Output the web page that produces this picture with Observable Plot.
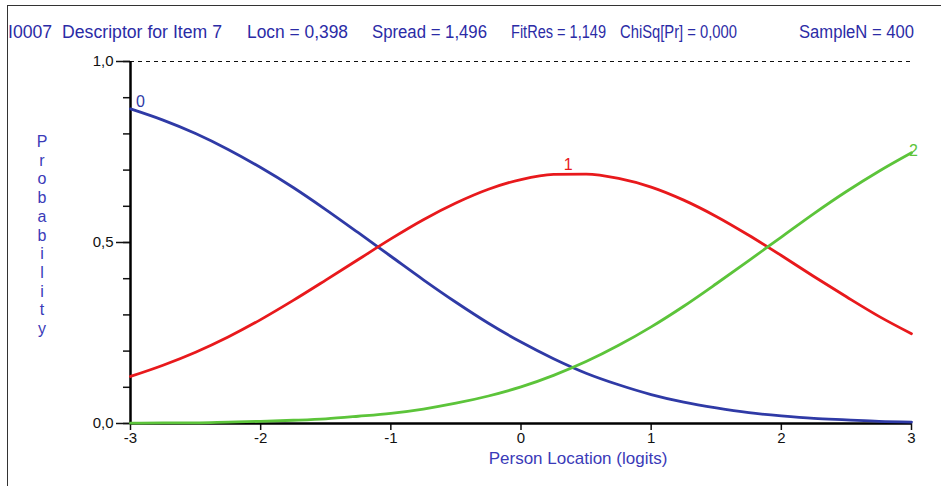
<!DOCTYPE html>
<html>
<head>
<meta charset="utf-8">
<script src="https://cdn.jsdelivr.net/npm/d3@7"></script>
<script src="https://cdn.jsdelivr.net/npm/@observablehq/plot@0.6"></script>
<style>
  html, body { margin: 0; padding: 0; background: #fff; }
  #wrap { position: relative; width: 941px; height: 486px; overflow: hidden; font-family: "Liberation Sans", Arial, sans-serif; }
  #frame { position: absolute; left: 7px; top: 5px; right: -5px; bottom: -5px; border-top: 1.5px solid #333; border-left: 1.5px solid #333; }
  .tt { position: absolute; top: 21px; font-size: 17.5px; color: #2b2ba6; white-space: pre; line-height: 22px; transform-origin: 0 50%; }
  #ylab { position: absolute; left: 34px; top: 133px; width: 16px; text-align: center; font-size: 16px; line-height: 18.7px; color: #3a3ab8; }
  #chart { position: absolute; left: 0; top: 0; }
</style>
</head>
<body>
<div id="wrap">
  <div id="frame"></div>
  <div id="chart"></div>
  <div id="ylab"></div>
</div>
<script>
// ---- data ----
const titleParts = ["I0007  Descriptor for Item 7", "Locn = 0,398", "Spread = 1,496", "FitRes = 1,149", "ChiSq[Pr] = 0,000", "SampleN = 400"];
const xLabel = "Person Location (logits)";
const yLabel = "Probability";
const categories = ["0", "1", "2"];
const logits = [-3, -2.75, -2.5, -2.25, -2, -1.75, -1.5, -1.25, -1, -0.75, -0.5, -0.25, 0, 0.25, 0.5, 0.75, 1, 1.25, 1.5, 1.75, 2, 2.25, 2.5, 2.75, 3];
const prob0 = [0.869, 0.838, 0.801, 0.757, 0.707, 0.652, 0.591, 0.527, 0.462, 0.397, 0.335, 0.277, 0.225, 0.179, 0.139, 0.107, 0.080, 0.059, 0.043, 0.030, 0.021, 0.014, 0.010, 0.006, 0.004];
const prob1 = [0.130, 0.161, 0.197, 0.239, 0.287, 0.340, 0.396, 0.453, 0.510, 0.563, 0.609, 0.647, 0.674, 0.688, 0.689, 0.677, 0.653, 0.617, 0.572, 0.520, 0.464, 0.406, 0.350, 0.296, 0.248];
const prob2 = [0.001, 0.002, 0.002, 0.004, 0.006, 0.009, 0.013, 0.020, 0.028, 0.040, 0.056, 0.076, 0.101, 0.133, 0.171, 0.216, 0.267, 0.324, 0.386, 0.450, 0.515, 0.580, 0.641, 0.697, 0.748];
const xTickValues = [-3, -2, -1, 0, 1, 2, 3];
const xTickLabels = ["-3", "-2", "-1", "0", "1", "2", "3"];
const yTickValues = [0, 0.5, 1];
const yTickLabels = ["0,0", "0,5", "1,0"];
const yMinorTicks = [0, 0.1, 0.2, 0.3, 0.4, 0.5, 0.6, 0.7, 0.8, 0.9, 1];

// ---- layout / style ----
const titleLeft = [8, 247, 372, 511, 620, 799];
const titleWidth = [214, 101, 115, 95, 117, 115];
const colors = ["#2f3aa6", "#e8191c", "#5cc43a"];
const labelIndex = [0, 14, 24];
const labelDx = [10, -18, 2];
const labelDy = [-7, -9, -2];

// titles
const wrap = document.getElementById("wrap");
titleParts.forEach((t, i) => {
  const s = document.createElement("div");
  s.className = "tt";
  s.style.left = titleLeft[i] + "px";
  s.textContent = t;
  wrap.appendChild(s);
  const w = s.getBoundingClientRect().width;
  if (w > 0) s.style.transform = `scaleX(${titleWidth[i] / w})`;
});
document.getElementById("ylab").innerHTML = yLabel.split("").map(c => `<div>${c}</div>`).join("");

const series = [prob0, prob1, prob2];
const rows = [];
series.forEach((ps, k) => ps.forEach((p, i) => rows.push({x: logits[i], p, cat: categories[k]})));
const labelRows = categories.map((c, k) => ({x: logits[labelIndex[k]], p: series[k][labelIndex[k]], cat: c, k}));

const chart = Plot.plot({
  width: 941,
  height: 486,
  marginLeft: 130,
  marginRight: 30,
  marginTop: 61,
  marginBottom: 63,
  style: {fontFamily: "'Liberation Sans', Arial, sans-serif", fontSize: "15px", background: "transparent", color: "#111"},
  x: {domain: [-3, 3]},
  y: {domain: [0, 1]},
  color: {domain: categories, range: colors},
  marks: [
    Plot.axisY({ticks: yMinorTicks, tickSize: 7, tickFormat: () => "", label: null, strokeWidth: 1.5}),
    Plot.axisY({ticks: yTickValues, tickSize: 14, tickPadding: 3, tickFormat: d => yTickLabels[yTickValues.indexOf(d)], label: null, strokeWidth: 1.5}),
    Plot.axisX({ticks: xTickValues, tickSize: 7, tickPadding: 2, tickFormat: d => xTickLabels[xTickValues.indexOf(d)], label: null, strokeWidth: 1.5}),
    Plot.ruleY([1], {stroke: "#111", strokeDasharray: "4,4", strokeWidth: 1.2}),
    Plot.ruleX([-3], {stroke: "#000", strokeWidth: 2.5}),
    Plot.ruleY([0], {stroke: "#000", strokeWidth: 2.5}),
    Plot.line(rows, {x: "x", y: "p", z: "cat", stroke: "cat", strokeWidth: 2.8, curve: "monotone-x"}),
    ...labelRows.map(r => Plot.text([r], {x: "x", y: "p", text: "cat", fill: colors[r.k], dx: labelDx[r.k], dy: labelDy[r.k], fontSize: 16, textAnchor: "middle"})),
    Plot.text([xLabel], {frameAnchor: "bottom", text: d => d, dx: 57, dy: 40, fill: "#3a3ab8", fontSize: 17})
  ]
});
document.getElementById("chart").appendChild(chart);
</script>
</body>
</html>
